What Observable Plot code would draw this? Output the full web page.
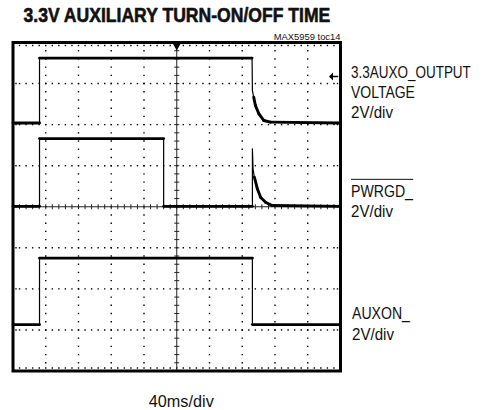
<!DOCTYPE html>
<html><head><meta charset="utf-8">
<script src="https://cdn.jsdelivr.net/npm/d3@7"></script>
<script src="https://cdn.jsdelivr.net/npm/@observablehq/plot@0.6"></script>
<style>body{margin:0;background:#fff;} #chart svg{display:block;}</style>
</head><body><div id="chart"></div>
<script>
// ---- data (time in divisions of 40 ms, level in divisions of 2 V) ----
const auxoT  = [0, 0.81, 0.81, 7.30, 7.31, 7.35, 7.40, 7.51, 7.66, 7.86, 10];
const auxoV  = [6.04, 6.04, 7.62, 7.62, 6.83, 6.67, 6.47, 6.26, 6.10, 6.06, 6.04];
const pwrgdT = [0, 0.81, 0.81, 4.60, 4.60, 7.31, 7.31, 7.33, 7.37, 7.46, 7.56, 7.71, 7.91, 10];
const pwrgdV = [4.01, 4.01, 5.66, 5.66, 4.01, 4.01, 5.41, 4.92, 4.72, 4.44, 4.23, 4.11, 4.03, 4.01];
const auxonT = [0, 0.81, 0.81, 7.31, 7.31, 10];
const auxonV = [1.13, 1.13, 2.75, 2.75, 1.13, 1.13];
const triggerTime = [5];
const refLevel = [7.17];

const titleText = "3.3V AUXILIARY TURN-ON/OFF TIME";
const tocText = "MAX5959 toc14";
const xLabel = "40ms/div";
const auxoLabel = ["3.3AUXO_OUTPUT", "VOLTAGE", "2V/div"];
const pwrgdLabel = ["PWRGD_", "2V/div"];
const auxonLabel = ["AUXON_", "2V/div"];
const xDivs = 10, yDivs = 8;

// ---- layout ----
const W = 483, H = 410;
const mL = 12.5, mR = 143, mT = 42, mB = 39.5;
const font = "'Liberation Sans', Arial, Helvetica, sans-serif";

const traces = [[auxoT, auxoV], [pwrgdT, pwrgdV], [auxonT, auxonV]];
const segs = traces.flatMap(([t, v]) =>
  d3.pairs(d3.zip(t, v)).map(([a, b]) => ({x1: a[0], y1: a[1], x2: b[0], y2: b[1]})));
const flatSegs = segs.filter(s => Math.abs(s.x2 - s.x1) > 0.05);

const sub = 5;
const gridV = d3.range(1, xDivs).filter(i => i !== xDivs / 2)
  .flatMap(i => d3.range(0, yDivs * sub + 1).map(k => ({x: i, y: k / sub})));
const gridH = d3.range(1, yDivs).filter(j => j !== yDivs / 2)
  .flatMap(j => d3.range(0, xDivs * sub + 1).map(k => ({x: k / sub, y: j})));
const edgeX = d3.range(1, xDivs * sub).map(k => k / sub);
const edgeY = d3.range(1, yDivs);
const centerYTicks = d3.range(0, yDivs * sub + 1).map(k => k / sub);
const centerXTicks = d3.range(0, xDivs * sub + 1).map(k => k / sub);

const hDash = {draw(ctx, size) { const r = Math.sqrt(size / Math.PI); ctx.moveTo(-r, 0); ctx.lineTo(r, 0); }};
const vDash = {draw(ctx, size) { const r = Math.sqrt(size / Math.PI); ctx.moveTo(0, -r); ctx.lineTo(0, r); }};
const pix = {draw(ctx, size) { const r = Math.sqrt(size / Math.PI); ctx.rect(-r, -r, 2 * r, 2 * r); }};
const leftArrow = {draw(ctx, size) {
  const r = Math.sqrt(size / Math.PI);
  ctx.moveTo(-r, 0); ctx.lineTo(0, -r); ctx.lineTo(0, r); ctx.closePath();
  ctx.rect(0, -0.75, r * 1.3, 1.5);
}};

function textLines(lines, dx, top, step, size) {
  return lines.map((s, i) => Plot.text([s], {
    text: d => d, frameAnchor: "top-left", dx, dy: top - mT + i * step,
    textAnchor: "start", lineAnchor: "top", fontSize: size, fill: "#111", fontFamily: font
  }));
}

const dotStyle = {r: 0.7, fill: "#000", symbol: pix};

const plot = Plot.plot({
  width: W, height: H,
  marginLeft: mL, marginRight: mR, marginTop: mT, marginBottom: mB,
  x: {domain: [0, xDivs], axis: null},
  y: {domain: [0, yDivs], axis: null},
  style: {fontFamily: font, background: "#fff"},
  marks: [
    // dotted graticule
    Plot.dot(gridV, {x: "x", y: "y", ...dotStyle}),
    Plot.dot(gridH, {x: "x", y: "y", ...dotStyle}),
    Plot.dot(edgeX, {x: d => d, y: () => yDivs, dy: 3, ...dotStyle}),
    Plot.dot(edgeX, {x: d => d, y: () => 0, dy: -3, ...dotStyle}),
    Plot.dot(edgeY, {x: () => 0, y: d => d, dx: 3, ...dotStyle}),
    Plot.dot(edgeY, {x: () => xDivs, y: d => d, dx: -3, ...dotStyle}),
    // center axes with minor ticks
    Plot.ruleX([xDivs / 2], {stroke: "#222", strokeWidth: 1}),
    Plot.ruleY([yDivs / 2], {stroke: "#222", strokeWidth: 1}),
    Plot.dot(centerYTicks, {x: () => xDivs / 2, y: d => d, symbol: hDash, r: 2.5, stroke: "#222", strokeWidth: 1}),
    Plot.dot(centerXTicks, {x: d => d, y: () => yDivs / 2, symbol: vDash, r: 2.5, stroke: "#222", strokeWidth: 1}),
    // traces
    ...traces.map(([t, v]) => Plot.line(t.map((d, i) => [d, v[i]]), {x: d => d[0], y: d => d[1], stroke: "#000", strokeWidth: 1.2})),
    Plot.link(flatSegs, {x1: "x1", y1: "y1", x2: "x2", y2: "y2", stroke: "#000", strokeWidth: 2.9, strokeLinecap: "round"}),
    // frame
    Plot.frame({stroke: "#000", strokeWidth: 3}),
    // markers
    Plot.dot(triggerTime, {x: d => d, y: () => yDivs, symbol: "triangle", rotate: 180, r: 3.8, fill: "#000", dy: 2}),
    Plot.dot(refLevel, {x: () => xDivs, y: d => d, symbol: leftArrow, r: 4, fill: "#000", dx: -7.5}),
    // texts
    Plot.text([titleText], {text: d => d, frameAnchor: "top-left", dx: 10.5, dy: 7.5 - mT, textAnchor: "start", lineAnchor: "top", fontSize: 20, fontWeight: "bold", fill: "#111", stroke: "#111", strokeWidth: 0.6, fontFamily: font}),
    Plot.text([tocText], {text: d => d, frameAnchor: "top-right", dx: 0, dy: 32.3 - mT, textAnchor: "end", lineAnchor: "top", fontSize: 9.5, fill: "#111", fontFamily: font}),
    Plot.text([xLabel], {text: d => d, frameAnchor: "bottom-left", dx: 148.3 - mL, dy: 394.5 - (H - mB), textAnchor: "start", lineAnchor: "top", fontSize: 16.5, fill: "#111", fontFamily: font}),
    ...textLines(auxoLabel, 350.5 - mL, 65, 20, 17),
    ...textLines(pwrgdLabel, 350.5 - mL, 184.5, 20, 17),
    ...textLines(auxonLabel, 351.5 - mL, 306.5, 20.5, 17)
  ]
});

document.getElementById("chart").append(plot);

// condensed lettering widths (px) to mimic the narrow typeface
const condensed = new Map([
  [titleText, 307], [tocText, 67], [xLabel, 65],
  ["3.3AUXO_OUTPUT", 120], ["VOLTAGE", 64], ["2V/div", 42],
  ["PWRGD_", 62], ["AUXON_", 58]
]);
d3.select(plot).selectAll("text").each(function() {
  const s = this.textContent;
  if (!condensed.has(s)) return;
  const w = this.getComputedTextLength();
  const k = condensed.get(s) / w;
  const tr = this.getAttribute("transform") || "";
  this.setAttribute("transform", tr + ` scale(${k},1)`);
});
// overline on PWRGD_
d3.select(plot).selectAll("text").filter(function() { return this.textContent === pwrgdLabel[0]; }).each(function() {
  const r = this.getBoundingClientRect();
  const s = plot.getBoundingClientRect();
  const x0 = r.left - s.left, y0 = r.top - s.top;
  d3.select(plot).append("line")
    .attr("x1", x0).attr("x2", x0 + r.width)
    .attr("y1", y0 - 2.5).attr("y2", y0 - 2.5)
    .attr("stroke", "#111").attr("stroke-width", 1);
});
</script>
</body></html>
